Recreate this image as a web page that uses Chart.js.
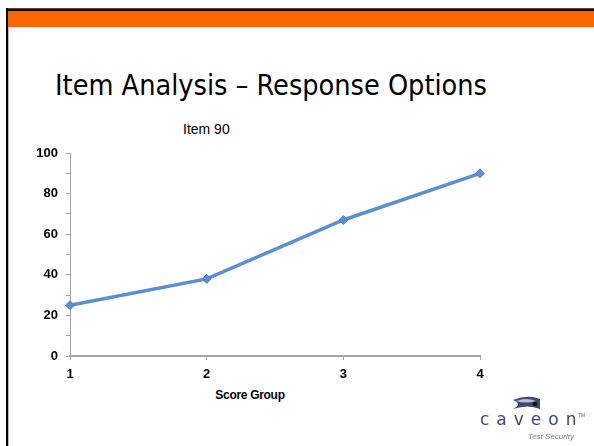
<!DOCTYPE html>
<html><head><meta charset="utf-8">
<script src="https://cdn.jsdelivr.net/npm/chart.js@4/dist/chart.umd.min.js"></script>
<style>
html,body{margin:0;padding:0;background:#fff;}
#wrap{position:relative;width:594px;height:446px;overflow:hidden;background:#fff;}
#topline{position:absolute;left:6px;top:8px;width:588px;height:3px;background:#000;border-top:1px solid #7a3a00;box-sizing:border-box;}
#orange{position:absolute;left:8px;top:11px;width:586px;height:16px;background:#FF6600;}
#leftline{position:absolute;left:6px;top:8px;width:2px;height:438px;background:#000;}
#leftline2{position:absolute;left:8px;top:27px;width:1px;height:419px;background:#bbb;}
#title{position:absolute;left:55px;top:68px;font-family:"DejaVu Sans Condensed","DejaVu Sans",sans-serif;font-size:29px;color:#000;white-space:nowrap;transform-origin:0 0;}
#ctitle{position:absolute;left:183px;top:121px;font-family:"Liberation Sans",Arial,sans-serif;font-size:14px;color:#000;white-space:nowrap;}
#xtitle{position:absolute;left:250px;top:388px;transform:translateX(-50%);font-family:"Liberation Sans",Arial,sans-serif;font-weight:bold;font-size:12px;color:#000;white-space:nowrap;letter-spacing:-0.3px;}
canvas{position:absolute;left:0;top:0;}
#logo{position:absolute;left:478px;top:395px;width:110px;height:20px;}
#caveon{position:absolute;left:480px;top:409px;font-family:"DejaVu Sans",sans-serif;font-size:17px;letter-spacing:7px;color:#3d4a70;white-space:nowrap;}
#tm{position:absolute;left:578px;top:412px;font-family:"Liberation Sans",sans-serif;font-size:5px;color:#666;}
#ts{position:absolute;left:528px;top:432px;font-family:"Liberation Sans",sans-serif;font-style:italic;font-size:8px;color:#7a8090;white-space:nowrap;}
</style></head>
<body>
<div id="wrap">
  <div id="orange"></div>
  <div id="topline"></div>
  <div id="leftline"></div>
  <div id="leftline2"></div>
  <div id="title">Item Analysis – Response Options</div>
  <div id="ctitle">Item 90</div>
  <div id="xtitle">Score Group</div>
  <canvas id="c" width="594" height="446"></canvas>
  <svg id="logo" viewBox="0 0 110 20">
    <path d="M35 5 Q50 -1 62 4 L62 14 Q50 9 35 14 Q45 9 35 5 Z" fill="#3d4a70"/>
    <path d="M38 6 Q48 2 58 6 Q48 9 38 6 Z" fill="#b8c0d8"/>
    <circle cx="57" cy="9" r="2.2" fill="#111"/>
  </svg>
  <div id="caveon">caveon</div>
  <div id="tm">TM</div>
  <div id="ts">Test Security</div>
</div>
<script>
const categories = ['1', '2', '3', '4'];
const itemValues = [25, 38, 67, 90];
const yTicks = [0, 20, 40, 60, 80, 100];

// fit title width to reference
(function(){
  const t = document.getElementById('title');
  const w = t.getBoundingClientRect().width;
  t.style.transform = 'scaleX(' + (432 / w) + ')';
})();

const axisColor = '#a6a6a6';
new Chart(document.getElementById('c'), {
  type: 'line',
  data: {
    labels: categories,
    datasets: [{
      label: 'Item 90',
      data: itemValues,
      borderColor: '#5b8fcf',
      backgroundColor: '#5b8fcf',
      borderWidth: 3.5,
      pointStyle: 'rectRot',
      pointRadius: 4.5,
      pointBorderWidth: 1,
      pointBackgroundColor: '#5b8fcf',
      pointBorderColor: '#4f83c4',
      tension: 0,
      clip: false
    }]
  },
  options: {
    responsive: false,
    animation: false,
    events: [],
    layout: { padding: { left: 30, top: 153, right: 114, bottom: 60 } },
    plugins: { legend: { display: false }, title: { display: false }, tooltip: { enabled: false } },
    scales: {
      x: {
        type: 'category',
        offset: false,
        afterFit: s => { s.height = 30; },
        grid: { display: true, drawOnChartArea: false, drawTicks: true, tickLength: 4, color: axisColor, lineWidth: 1 },
        border: { display: true, color: axisColor, width: 2 },
        ticks: { color: '#000', font: { family: 'Liberation Sans', size: 13, weight: 'bold' }, padding: 7, maxRotation: 0, autoSkip: false }
      },
      y: {
        min: 0, max: 100,
        afterFit: s => { s.width = 40; },
        afterBuildTicks: s => { const t = []; for (let v = 0; v <= 100; v += 10) t.push({ value: v }); s.ticks = t; },
        grid: { display: true, drawOnChartArea: false, drawTicks: true, tickLength: 4, color: axisColor, lineWidth: 1 },
        border: { display: true, color: axisColor, width: 1 },
        ticks: {
          color: '#000', font: { family: 'Liberation Sans', size: 13, weight: 'bold' }, padding: 8,
          callback: v => yTicks.includes(v) ? String(v) : ''
        }
      }
    }
  }
});
</script>
</body></html>
